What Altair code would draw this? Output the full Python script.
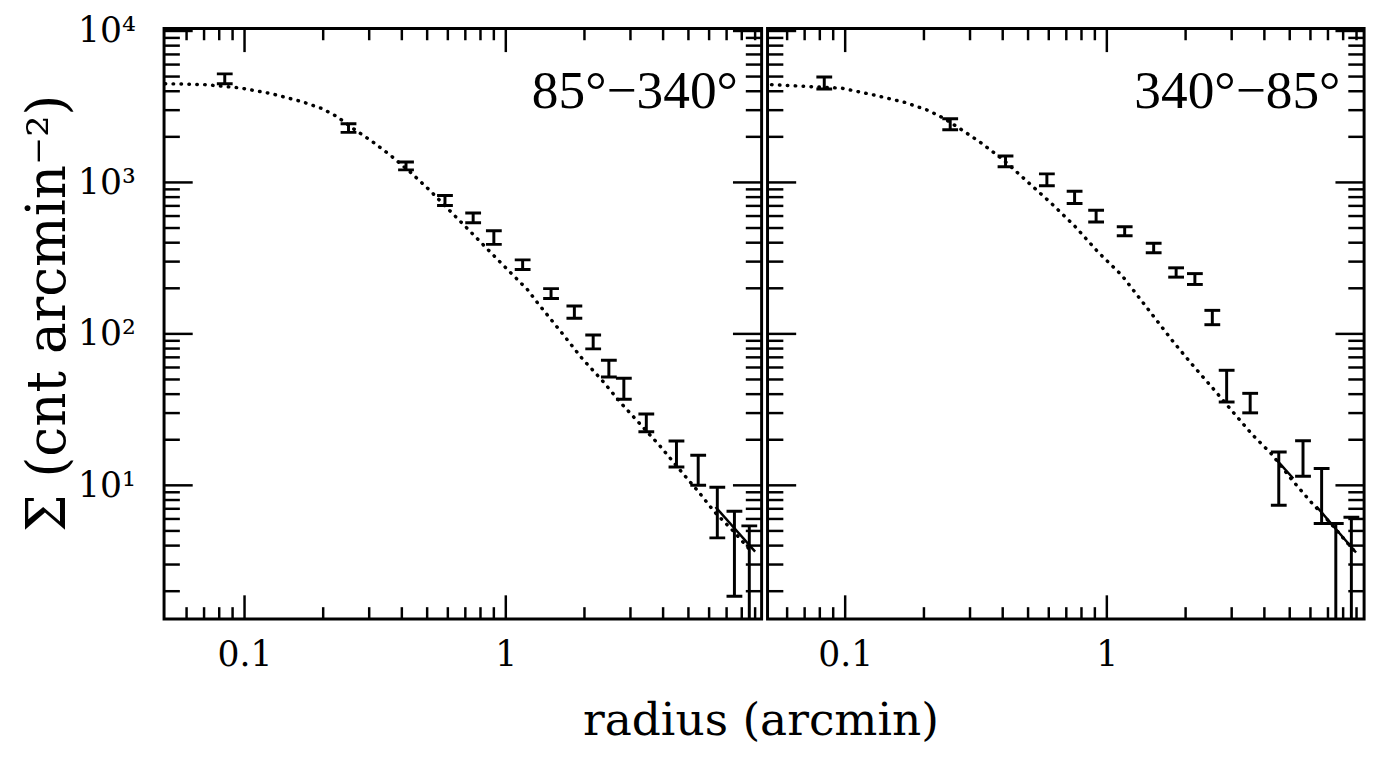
import altair as alt
import pandas as pd

# ---------------- data ----------------
PANEL_LABELS = ["85°−340°", "340°−85°"]

# left panel (85°-340°): radius, surface brightness, 1-sigma error
L_R   = [0.084, 0.25, 0.415, 0.585, 0.75, 0.90, 1.16, 1.49, 1.83, 2.16, 2.48, 2.83, 3.45, 4.5, 5.45, 6.45, 7.5, 8.55]
L_S   = [4850, 2290, 1288, 762, 585, 435, 287, 185, 140, 89, 59.5, 44, 26.1, 16.4, 12.9, 7.1, 4.3, 3.0]
L_ERR = [360, 150, 78, 57, 44, 45, 21, 14, 13, 9.4, 7.5, 7, 3.5, 3.2, 2.9, 2.6, 2.45, 2.4]

# left panel model curve (dotted) and its solid tail
L_MR = [0.0497, 0.0705, 0.096, 0.126, 0.166, 0.197, 0.226, 0.259, 0.307, 0.365, 0.433, 0.513, 0.609,
        0.723, 0.857, 1.017, 1.21, 1.32, 1.65, 1.96, 2.33, 2.76, 3.28, 3.89, 4.61, 5.47, 6.28, 7.45, 8.69]
L_MS = [4487, 4424, 4207, 3864, 3412, 3083, 2722, 2285, 1871, 1492, 1162, 883, 653,
        484, 358, 265, 196, 161, 100, 68.7, 49.6, 34.9, 25.2, 18.2, 12.8, 9.05, 6.7, 4.96, 3.67]
L_SR = [6.35, 9.0]
L_SS = [7.2, 3.65]
L_SEG = [0, 0]

# right panel (340°-85°)
R_R   = [0.0832, 0.252, 0.41, 0.59, 0.753, 0.91, 1.17, 1.51, 1.84, 2.17, 2.53, 2.87, 3.53, 4.54, 5.62, 6.62, 7.5, 8.6]
R_S   = [4550, 2430, 1382, 1045, 800, 602, 477, 370, 255, 231, 129, 46.5, 35.3, 12.0, 15.6, 9.25, 3.0, 3.2]
R_ERR = [410, 200, 111, 94, 74, 54, 32, 27, 18, 19, 14, 11, 5.2, 4.6, 4.1, 3.65, 2.6, 2.95]

R_MR = [0.0488, 0.0664, 0.097, 0.128, 0.169, 0.209, 0.24, 0.275, 0.327, 0.403, 0.496, 0.611, 0.753,
        0.927, 1.14, 1.41, 1.80, 2.14, 2.54, 3.02, 3.59, 4.26, 5.07, 6.02, 7.16, 8.95]
R_MS = [4450, 4330, 4190, 3787, 3377, 2976, 2630, 2262, 1851, 1405, 1015, 733, 516,
        346, 244, 152, 88, 61.5, 43.8, 30.8, 21.7, 16.1, 11.0, 7.78, 5.62, 3.58]
R_SR = [4.47, 5.16, 6.33, 8.96]
R_SS = [14.6, 11.1, 7.25, 3.6]
R_SEG = [0, 0, 1, 1]

# axes
X_LABEL_VALUES = [0.1, 1]
Y_LABEL_VALUES = [10, 100, 1000, 10000]
Y_LABEL_TEXT = {10: "10¹", 100: "10²", 1000: "10³", 10000: "10⁴"}
X_MAJOR = [0.1, 1]
X_MINOR = [0.06, 0.07, 0.08, 0.09, 0.2, 0.3, 0.4, 0.5, 0.6, 0.7, 0.8, 0.9, 2, 3, 4, 5, 6, 7, 8, 9]
Y_MAJOR = [10, 100, 1000, 10000]
Y_MINOR = [2, 3, 4, 5, 6, 7, 8, 9, 20, 30, 40, 50, 60, 70, 80, 90,
           200, 300, 400, 500, 600, 700, 800, 900, 2000, 3000, 4000, 5000, 6000, 7000, 8000, 9000]

X_TITLE = "radius (arcmin)"
Y_TITLE = "Σ (cnt arcmin⁻²)"

# ---------------- layout / style ----------------
H = 598
W_L, W_R = 605, 604
XDOM_L = [0.0492, 9.53]
XDOM_R = [0.0505, 9.62]
YDOM = [1.31, 10400]
SERIF = "DejaVu Serif"
LABEL_FONT = "Liberation Serif"
TICK_FS = 35

label_expr = " : ".join(
    [f"datum.value == {k} ? '{v}'" for k, v in Y_LABEL_TEXT.items()][:-1]
) + f" : '{Y_LABEL_TEXT[10000]}'"


def panel(R, S, E, MR, MS, SR, SS, SEG, label, W, xdom, show_y):
    xs = alt.Scale(type="log", domain=xdom, nice=False)
    ys = alt.Scale(type="log", domain=YDOM, nice=False)
    xax = alt.Axis(values=X_LABEL_VALUES, format="~g", title=None, ticks=False, domain=False,
                   grid=False, labelPadding=19, labelFontSize=TICK_FS, labelFont=SERIF,
                   labelColor="black")
    if show_y:
        yax = alt.Axis(values=Y_LABEL_VALUES, labelExpr=label_expr, title=Y_TITLE, ticks=False,
                       domain=False, grid=False, labelPadding=29, labelFontSize=TICK_FS,
                       labelFont=SERIF, labelColor="black", titleFont=SERIF, titleFontSize=54,
                       titleFontWeight="normal", titleColor="black", titlePadding=2, titleY=288)
    else:
        yax = None

    pts = pd.DataFrame({"r": R, "s": S, "e": E})
    pts["lo"] = [max(s - e, 0.2) for s, e in zip(S, E)]
    pts["hi"] = [s + e for s, e in zip(S, E)]
    model = pd.DataFrame({"r": MR, "s": MS})
    solid = pd.DataFrame({"r": SR, "s": SS, "seg": SEG})

    X = lambda f: alt.X(f"{f}:Q", scale=xs, axis=xax)
    Y = lambda f: alt.Y(f"{f}:Q", scale=ys, axis=yax)

    curve = alt.Chart(model).mark_line(color="black", strokeWidth=3.5, strokeDash=[0.5, 7.5],
                                       strokeCap="round", clip=True).encode(x=X("r"), y=Y("s"))
    tail = alt.Chart(solid).mark_line(color="black", strokeWidth=2.5, clip=True).encode(
        x=X("r"), y=Y("s"), detail="seg:N")
    bars = alt.Chart(pts).mark_rule(color="black", strokeWidth=3, opacity=1, clip=True).encode(
        x=X("r"), y=Y("lo"), y2="hi:Q")
    cap_hi = alt.Chart(pts).mark_tick(color="black", orient="horizontal", size=16, thickness=3,
                                      opacity=1, clip=True).encode(x=X("r"), y=Y("hi"))
    cap_lo = alt.Chart(pts).mark_tick(color="black", orient="horizontal", size=16, thickness=3,
                                      opacity=1, clip=True).encode(x=X("r"), y=Y("lo"))
    txt = alt.Chart(pd.DataFrame({"t": [label]})).mark_text(
        align="right", baseline="alphabetic", font=LABEL_FONT, fontSize=54, color="black"
    ).encode(text="t:N", x=alt.value(W - 24), y=alt.value(81))

    layers = [curve, tail, bars, cap_hi, cap_lo, txt]

    def tk(vals, side, L):
        df = pd.DataFrame({"t": vals})
        m = alt.Chart(df).mark_rule(color="black", strokeWidth=2.5, opacity=1)
        if side in ("bottom", "top"):
            enc = dict(x=X("t"))
            if side == "bottom":
                enc.update(y=alt.value(H), y2=alt.value(H - L))
            else:
                enc.update(y=alt.value(0), y2=alt.value(L))
        else:
            enc = dict(y=Y("t"))
            if side == "left":
                enc.update(x=alt.value(0), x2=alt.value(L))
            else:
                enc.update(x=alt.value(W), x2=alt.value(W - L))
        return m.encode(**enc)

    for side in ("bottom", "top"):
        layers.append(tk(X_MAJOR, side, 24))
        layers.append(tk(X_MINOR, side, 12))
    for side in ("left", "right"):
        layers.append(tk(Y_MAJOR, side, 29))
        layers.append(tk(Y_MINOR, side, 16))

    return alt.layer(*layers).properties(width=W, height=H)


left = panel(L_R, L_S, L_ERR, L_MR, L_MS, L_SR, L_SS, L_SEG, PANEL_LABELS[0], W_L, XDOM_L, True)
right = panel(R_R, R_S, R_ERR, R_MR, R_MS, R_SR, R_SS, R_SEG, PANEL_LABELS[1], W_R, XDOM_R, False)

chart = alt.hconcat(left, right, spacing=0).properties(
    title=alt.TitleParams(X_TITLE, orient="bottom", anchor="middle", font=SERIF, fontSize=46,
                          fontWeight="normal", color="black", offset=26, dx=68),
    padding={"left": 12, "top": 0, "right": 5, "bottom": 5},
    background="white",
).configure_view(stroke="black", strokeWidth=3).configure_concat(spacing=0).configure_axis(
    labelFontSize=TICK_FS, labelFont=SERIF, labelColor="black"
)

chart.save("out.html", embed_options={"renderer": "svg", "actions": False})
